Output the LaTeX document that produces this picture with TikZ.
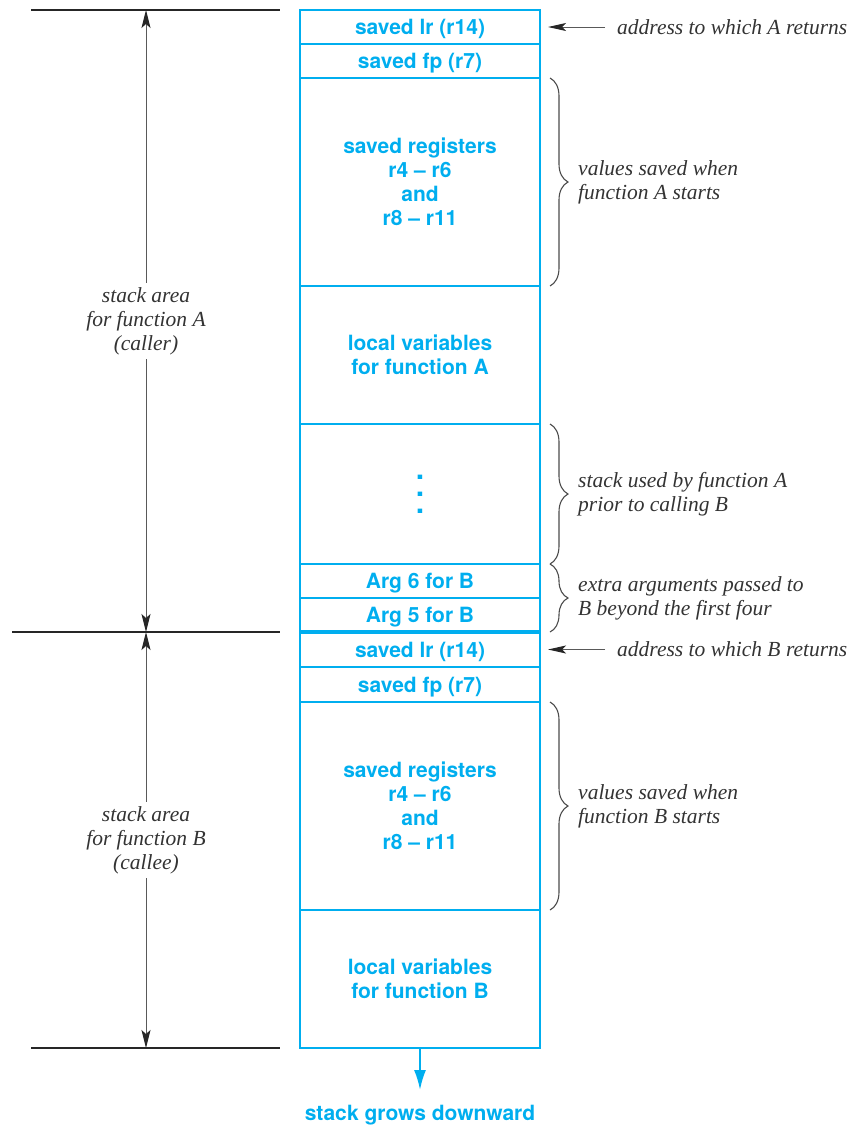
\documentclass[tikz,border=0pt]{standalone}
\usepackage{fontspec}
\setmainfont{Liberation Serif}
\setsansfont{TeX Gyre Heros}
\usetikzlibrary{arrows.meta,positioning,decorations.pathreplacing}
\definecolor{stackblue}{HTML}{00AEEF}
\definecolor{notegray}{HTML}{333333}
\tikzset{
  cell/.style={draw=stackblue, line width=2.5pt, minimum width=240pt, inner sep=0pt, outer sep=0pt, align=center, text depth=0pt, text=stackblue, font=\sffamily\bfseries\fontsize{21}{24}\selectfont},
  note/.style={anchor=west, align=left, inner sep=0pt, text=notegray, font=\itshape\fontsize{21.5}{24}\selectfont},
  area/.style={fill=white, align=center, inner sep=4pt, text=notegray, font=\itshape\fontsize{21.5}{24}\selectfont},
  guide/.style={line width=1.2pt, draw=black!85},
  dim/.style={{Stealth[length=18pt,width=9pt,inset=4pt,color=black!85]}-{Stealth[length=18pt,width=9pt,inset=4pt,color=black!85]}, line width=1pt, draw=black!65},
  ret/.style={-{Stealth[length=18pt,width=8pt,inset=4pt,color=black!85]}, line width=1pt, draw=black!65},
  brace/.style={decorate, decoration={brace, amplitude=18pt}, line width=1.1pt, draw=black!70},
  growarrow/.style={-{Latex[length=20pt,width=12pt]}, line width=2pt, draw=stackblue}
}

\begin{document}
\begin{tikzpicture}[x=1pt, y=-1pt, node distance=0pt]
  \useasboundingbox (0,0) rectangle (851,1125);

  % stack frame of A
  \node[cell, minimum height=34pt, anchor=north] (lrA) at (420,10) {saved lr (r14)};
  \node[cell, minimum height=34pt, below=of lrA] (fpA) {saved fp (r7)};
  \node[cell, minimum height=208pt, below=of fpA] (regsA) {saved registers\\r4 -- r6\\and\\r8 -- r11};
  \node[cell, minimum height=138pt, below=of regsA] (localsA) {local variables\\for function A};
  \node[cell, minimum height=140pt, below=of localsA, font=\sffamily\bfseries\fontsize{30}{17}\selectfont] (usedA) {.\\.\\.};
  \node[cell, minimum height=34pt, below=of usedA] (argsix) {Arg 6 for B};
  \node[cell, minimum height=34pt, below=of argsix] (argfive) {Arg 5 for B};

  % stack frame of B
  \node[cell, minimum height=35pt, below=of argfive] (lrB) {saved lr (r14)};
  \node[cell, minimum height=35pt, below=of lrB] (fpB) {saved fp (r7)};
  \node[cell, minimum height=208pt, below=of fpB] (regsB) {saved registers\\r4 -- r6\\and\\r8 -- r11};
  \node[cell, minimum height=138pt, below=of regsB] (localsB) {local variables\\for function B};
  \draw[stackblue, line width=3.5pt] (argfive.south west) -- (argfive.south east);

  % notes on the right
  \node[note, right=77pt of lrA] (retA) {address to which A returns};
  \node[note, right=38pt of regsA] (savedA) {values saved when\\function A starts};
  \node[note, right=38pt of usedA] (usedAnote) {stack used by function A\\prior to calling B};
  \node[note, right=38pt of argsix.south east] (extra) {extra arguments passed to\\B beyond the first four};
  \node[note, right=77pt of lrB] (retB) {address to which B returns};
  \node[note, right=38pt of regsB] (savedB) {values saved when\\function B starts};

  \draw[ret] ([xshift=-12pt]retA.west) -- ([xshift=8pt]lrA.east);
  \draw[ret] ([xshift=-12pt]retB.west) -- ([xshift=8pt]lrB.east);
  \draw[brace] ([xshift=10pt]regsA.north east) -- ([xshift=10pt]regsA.south east);
  \draw[brace] ([xshift=10pt]usedA.north east) -- ([xshift=10pt]usedA.south east);
  \draw[brace] ([xshift=10pt]argsix.north east) -- ([xshift=10pt]argfive.south east);
  \draw[brace] ([xshift=10pt]regsB.north east) -- ([xshift=10pt]regsB.south east);

  % extent of each area on the left
  \coordinate (topA) at (146,10);
  \coordinate (midAB) at (146,632);
  \coordinate (botB) at (146,1048);
  \draw[guide] (31,10) -- ([xshift=-20pt]lrA.north west);
  \draw[guide] (12,632) -- ([xshift=-20pt]argfive.south west);
  \draw[guide] (31,1048) -- ([xshift=-20pt]localsB.south west);
  \draw[dim] (topA) -- node[area] {stack area\\for function A\\(caller)} (midAB);
  \draw[dim] (midAB) -- node[area] {stack area\\for function B\\(callee)} (botB);

  % growth direction
  \node[below=57pt of localsB, inner sep=0pt, text=stackblue, font=\sffamily\bfseries\fontsize{21}{24}\selectfont] (grows) {stack grows downward};
  \draw[growarrow] (localsB.south) -- ([yshift=15pt]grows.north);
\end{tikzpicture}
\end{document}
